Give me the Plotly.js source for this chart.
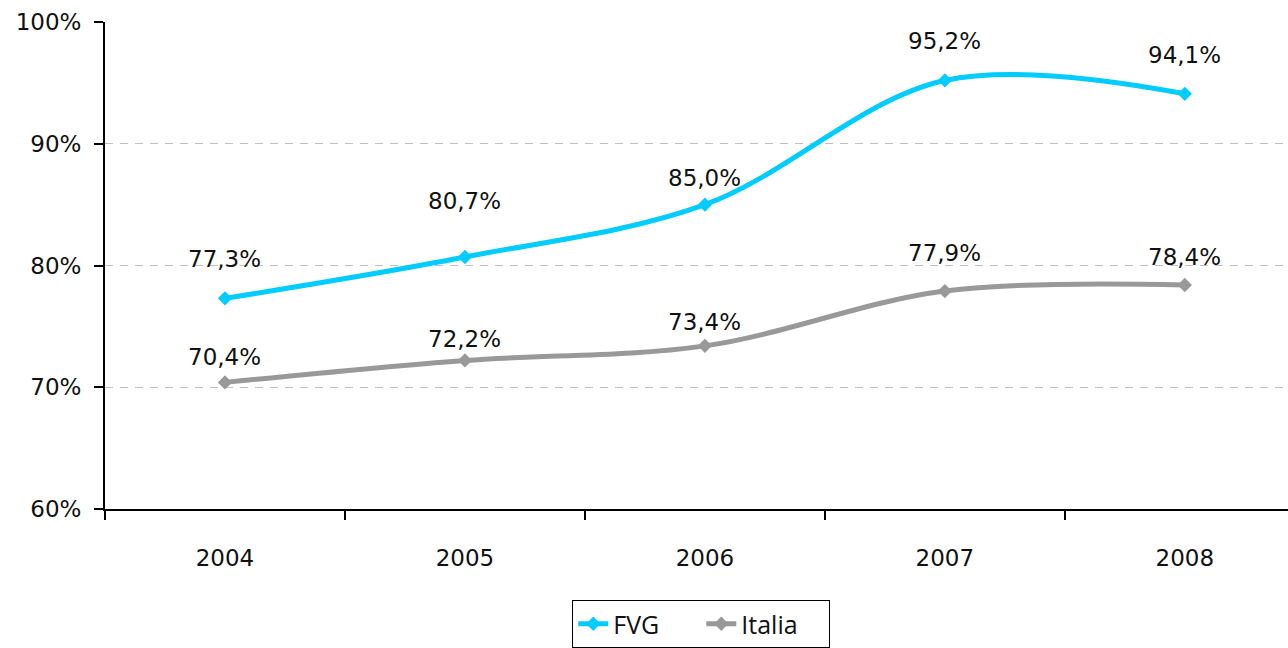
<!DOCTYPE html>
<html>
<head>
<meta charset="utf-8">
<script src="https://cdn.plot.ly/plotly-3.0.1.min.js"></script>
<style>
  html, body { margin: 0; padding: 0; background: #fff; }
  #chart { width: 1288px; height: 648px; }
</style>
</head>
<body>
<div id="chart"></div>
<script>
const years = ["2004", "2005", "2006", "2007", "2008"];
const fvg = [77.3, 80.7, 85.0, 95.2, 94.1];
const italia = [70.4, 72.2, 73.4, 77.9, 78.4];

// label offsets above each point (pixels), as placed in the original
const fvgShift = [39, 56, 27, 39, 39];
const italiaShift = [25, 21, 24, 38, 28];

const fmt = v => v.toFixed(1).replace(".", ",") + "%";
const textFont = { family: "DejaVu Sans, Verdana, sans-serif", size: 23, color: "#111" };

function makeLabels(ys, shifts) {
  return ys.map((v, i) => ({
    xref: "x", yref: "y", x: i, y: v, text: fmt(v),
    showarrow: false, yshift: shifts[i], font: textFont
  }));
}

const traces = [
  {
    x: years, y: fvg, name: "FVG", type: "scatter", mode: "lines+markers",
    line: { color: "#00ccff", width: 5, shape: "spline", smoothing: 1 },
    marker: { symbol: "diamond", size: 11, color: "#00ccff" }
  },
  {
    x: years, y: italia, name: "Italia", type: "scatter", mode: "lines+markers",
    line: { color: "#999999", width: 5, shape: "spline", smoothing: 1 },
    marker: { symbol: "diamond", size: 11, color: "#999999" }
  }
];

const layout = {
  width: 1288, height: 648,
  margin: { l: 105, r: 0, t: 22, b: 138 },
  paper_bgcolor: "#fff", plot_bgcolor: "#fff",
  showlegend: true,
  legend: {
    orientation: "h", x: 0.395, y: -0.186, xanchor: "left", yanchor: "top",
    bordercolor: "#000", borderwidth: 1, entrywidth: 83,
    font: { family: "Open Sans, Noto Sans, sans-serif", size: 25, color: "#111" }
  },
  xaxis: {
    type: "category", range: [-0.5, 4.43],
    showline: true, linecolor: "#000", linewidth: 2,
    ticks: "outside", tickson: "boundaries", ticklen: 9, tickwidth: 2, tickcolor: "#000",
    ticklabelstandoff: 27,
    tickfont: textFont,
    showgrid: false, zeroline: false
  },
  yaxis: {
    range: [60, 100], dtick: 10, ticksuffix: "%",
    showline: true, linecolor: "#000", linewidth: 2,
    ticks: "outside", ticklen: 9, tickwidth: 2, tickcolor: "#000",
    ticklabelstandoff: 8,
    tickfont: textFont,
    showgrid: true, gridcolor: "#c0c0c0", gridwidth: 1, griddash: "8px,7px",
    zeroline: false
  },
  annotations: makeLabels(fvg, fvgShift).concat(makeLabels(italia, italiaShift))
};

Plotly.newPlot("chart", traces, layout, { displayModeBar: false });
</script>
</body>
</html>
